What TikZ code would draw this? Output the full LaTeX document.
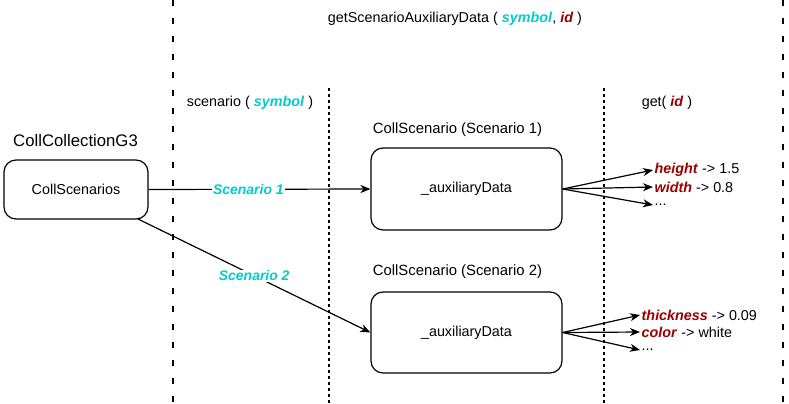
\documentclass[tikz,border=0pt]{standalone}
\usepackage{fontspec}
\setmainfont{Liberation Sans}
\usetikzlibrary{arrows.meta}
\definecolor{keycyan}{RGB}{0,204,204}
\definecolor{keyred}{RGB}{153,0,0}
\newcommand{\sym}[1]{\textcolor{keycyan}{\textbf{\textit{#1}}}}
\newcommand{\key}[1]{\textcolor{keyred}{\textbf{\textit{#1}}}}
\begin{document}
\begin{tikzpicture}[x=1bp, y=-1bp, line join=round, font=\fontsize{14.4}{17}\selectfont, >={Stealth[length=10bp, width=8bp, inset=3bp]}]
			\tikzset{obj/.style={draw, rounded corners=12bp, line width=1.2bp},
				link/.style={->, line width=1.2bp},
				longdash/.style={line width=1.2bp, dash pattern=on 6bp off 12bp},
				shortdash/.style={line width=1.2bp, dash pattern=on 3bp off 3bp},
				objtitle/.style={font=\fontsize{14.9}{18}\selectfont},
				tag/.style={fill=white, inner sep=1pt, font=\fontsize{14}{17}\selectfont\bfseries\itshape, text=keycyan},
				prop/.style={anchor=west, inner sep=1.5bp}}
			\useasboundingbox (0,0) rectangle (789,403);
			% separators
			\draw[longdash] (173,0)--(173,403);
			\draw[longdash] (783,0)--(783,403);
			\draw[shortdash] (329,88)--(329,403);
			\draw[shortdash] (604,88)--(604,403);
			% headers
			\node (title) at (455,19) {getScenarioAuxiliaryData ( \sym{symbol}, \key{id} )};
			\node (hscen) at (250,103) {scenario ( \sym{symbol} )};
			\node (hget) at (667,103) {get( \key{id} )};
			% objects
			\node[obj, minimum width=144bp, minimum height=59bp] (coll) at (76,189.5) {CollScenarios};
			\node[anchor=west, inner sep=0pt, font=\fontsize{16.8}{20}\selectfont] (colltitle) at (13,141) {CollCollectionG3};
			\node[obj, minimum width=191bp, minimum height=82bp] (scen1) at (466.5,189) {\_auxiliaryData};
			\node[objtitle] (scen1title) at (457.5,130) {CollScenario (Scenario 1)};
			\node[obj, minimum width=191bp, minimum height=81bp] (scen2) at (466.5,332.5) {\_auxiliaryData};
			\node[objtitle] (scen2title) at (457.5,272) {CollScenario (Scenario 2)};
			% links
			\draw[link] (coll.east)--(scen1.west) node[tag, pos=0.45]{Scenario 1};
			\draw[link] (138,219)--(scen2.west) node[tag, pos=0.5]{Scenario 2};
			% properties
			\node[prop] (h) at (653,170) {\key{height} -> 1.5};
			\node[prop] (w) at (653,187) {\key{width} -> 0.8};
			\node[prop] (d1) at (653,205) {...};
			\node[prop] (t) at (640,315) {\key{thickness} -> 0.09};
			\node[prop] (c) at (640,332) {\key{color} -> white};
			\node[prop] (d2) at (640,350) {...};
			\foreach \n in {h,w,d1} \draw[link] (scen1.east)--(\n.west);
			\foreach \n in {t,c,d2} \draw[link] (scen2.east)--(\n.west);
		\end{tikzpicture}
\end{document}
